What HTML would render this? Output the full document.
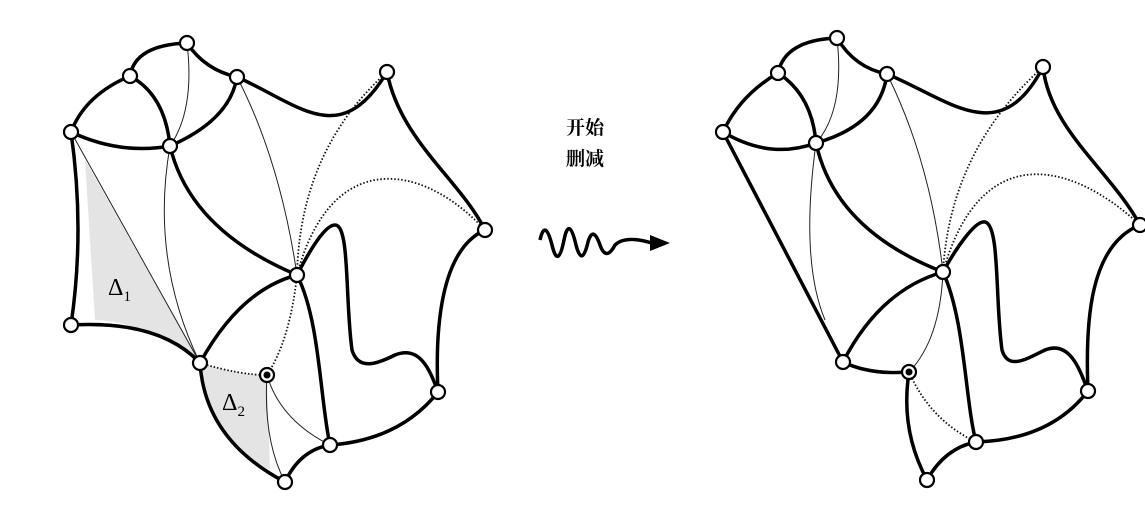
<!DOCTYPE html>
<html><head><meta charset="utf-8"><style>
html,body{margin:0;padding:0;background:#fff}
svg{display:block}
.k{fill:none;stroke:#000;stroke-width:3.5;stroke-linecap:round}
.t{fill:none;stroke:#222;stroke-width:1}
.d{fill:none;stroke:#111;stroke-width:1.8;stroke-dasharray:1.5 2}
.n{fill:#fff;stroke:#000;stroke-width:2.2}
</style></head><body>
<svg width="1145" height="510" viewBox="0 0 1145 510">
<g>
<path d="M85,160 L200,363 Q140,320 95,320 Z" fill="#e4e4e4"/>
<path d="M200,363 Q240,375 267,375 L270,470 Q210,440 200,363 Z" fill="#e4e4e4"/>
<path class="k" d="M71,132 Q85,95 130,76"/>
<path class="k" d="M130,76 Q135,45 187,43"/>
<path class="k" d="M187,43 Q205,70 237,77"/>
<path class="k" d="M130,76 Q165,95 170,146"/>
<path class="k" d="M170,146 Q230,120 237,77"/>
<path class="k" d="M71,132 Q120,155 170,146"/>
<path class="k" d="M237,77 C300,105 340,150 387,72"/>
<path class="k" d="M387,72 C400,140 460,180 485,230"/>
<path class="k" d="M71,132 Q85,230 71,325"/>
<path class="k" d="M71,325 Q160,320 200,363"/>
<path class="k" d="M170,146 Q190,230 297,275"/>
<path class="k" d="M200,363 Q240,290 297,275"/>
<path class="k" d="M297,275 C310,250 325,225 335,225 C350,225 345,300 352,350 C358,370 375,365 395,355 C420,345 430,370 438,392"/>
<path class="k" d="M485,230 C440,250 435,330 438,392"/>
<path class="k" d="M297,275 C320,320 320,400 330,445"/>
<path class="k" d="M438,392 Q400,440 330,445"/>
<path class="k" d="M330,445 Q300,450 285,482"/>
<path class="k" d="M200,363 Q205,440 285,482"/>
<path class="t" d="M71,132 L200,363"/>
<path class="t" d="M170,146 Q150,260 200,363"/>
<path class="t" d="M187,43 Q195,110 170,146"/>
<path class="t" d="M237,77 Q280,160 297,275"/>
<path class="d" d="M387,72 Q300,150 297,275"/>
<path class="d" d="M485,230 C420,160 330,150 297,275"/>
<path class="d" d="M297,275 Q290,340 267,375"/>
<path class="d" d="M200,363 Q240,375 267,375"/>
<path class="t" d="M267,375 Q263,440 285,482"/>
<path class="t" d="M267,375 Q280,420 330,445"/>
<text x="108" y="295" font-family="Liberation Serif, serif" font-size="24">Δ<tspan font-size="15" dy="6">1</tspan></text>
<text x="222" y="410" font-family="Liberation Serif, serif" font-size="24">Δ<tspan font-size="15" dy="6">2</tspan></text>
<g>
<circle class="n" cx="187" cy="43" r="7"/><circle class="n" cx="130" cy="76" r="7"/><circle class="n" cx="237" cy="77" r="7"/>
<circle class="n" cx="71" cy="132" r="7"/><circle class="n" cx="170" cy="146" r="7"/><circle class="n" cx="387" cy="72" r="7"/>
<circle class="n" cx="485" cy="230" r="7"/><circle class="n" cx="297" cy="275" r="7"/><circle class="n" cx="71" cy="325" r="7"/>
<circle class="n" cx="200" cy="363" r="7"/><circle class="n" cx="267" cy="375" r="7"/><circle cx="267" cy="375" r="3.5" fill="#000"/>
<circle class="n" cx="438" cy="392" r="7"/><circle class="n" cx="330" cy="445" r="7"/><circle class="n" cx="285" cy="482" r="7"/>
</g>
</g>
<g font-family="Liberation Serif, 'Noto Serif CJK SC', serif" font-size="19" font-weight="bold" text-anchor="middle">
<text x="585" y="134">开始</text><text x="585" y="165">删减</text>
</g>
<g>
<path d="M540,240 Q545,218 552,245 Q558,270 564,240 Q569,215 576,245 Q582,268 588,242 Q593,225 600,245 Q606,262 615,245 Q625,235 652,243" fill="none" stroke="#000" stroke-width="3.5"/>
<polygon points="650,235 670,243 650,251" fill="#000"/>
</g>
<g>
<path class="k" d="M723,132 Q740,95 778,73"/>
<path class="k" d="M778,73 Q785,40 837,38"/>
<path class="k" d="M837,38 Q855,68 887,74"/>
<path class="k" d="M778,73 Q812,95 816,143"/>
<path class="k" d="M816,143 Q880,125 887,74"/>
<path class="k" d="M723,132 Q770,160 816,143"/>
<path class="k" d="M887,74 C950,100 1000,150 1043,67"/>
<path class="k" d="M1043,67 C1050,130 1110,170 1140,225"/>
<path class="k" d="M723,132 L843,362"/>
<path class="k" d="M843,362 Q880,290 943,272"/>
<path class="k" d="M816,143 Q835,230 943,272"/>
<path class="k" d="M943,272 C955,250 975,220 985,222 C1000,225 995,300 1002,350 C1008,370 1025,360 1045,350 C1070,340 1080,370 1088,391"/>
<path class="k" d="M1140,225 C1090,245 1085,320 1088,391"/>
<path class="k" d="M943,272 C965,320 965,400 976,442"/>
<path class="k" d="M1088,391 Q1050,440 976,442"/>
<path class="k" d="M976,442 Q945,448 927,480"/>
<path class="k" d="M909,372 Q900,430 927,480"/>
<path class="k" d="M843,362 Q870,375 909,372"/>
<path class="t" d="M837,38 Q845,110 816,143"/>
<path class="t" d="M887,74 Q930,160 943,272"/>
<path class="t" d="M816,143 Q800,260 825,320"/>
<path class="d" d="M1043,67 Q950,150 943,272"/>
<path class="d" d="M1140,225 C1070,160 980,140 943,272"/>
<path class="t" d="M943,272 Q940,340 909,372"/>
<path class="d" d="M909,372 Q930,420 976,442"/>
<g>
<circle class="n" cx="837" cy="38" r="7"/><circle class="n" cx="778" cy="73" r="7"/><circle class="n" cx="887" cy="74" r="7"/>
<circle class="n" cx="723" cy="132" r="7"/><circle class="n" cx="816" cy="143" r="7"/><circle class="n" cx="1043" cy="67" r="7"/>
<circle class="n" cx="1140" cy="225" r="7"/><circle class="n" cx="943" cy="272" r="7"/>
<circle class="n" cx="843" cy="362" r="7"/><circle class="n" cx="909" cy="372" r="7"/><circle cx="909" cy="372" r="3.5" fill="#000"/>
<circle class="n" cx="1088" cy="391" r="7"/><circle class="n" cx="976" cy="442" r="7"/><circle class="n" cx="927" cy="480" r="7"/>
</g>
</g>
</svg>
</body></html>
